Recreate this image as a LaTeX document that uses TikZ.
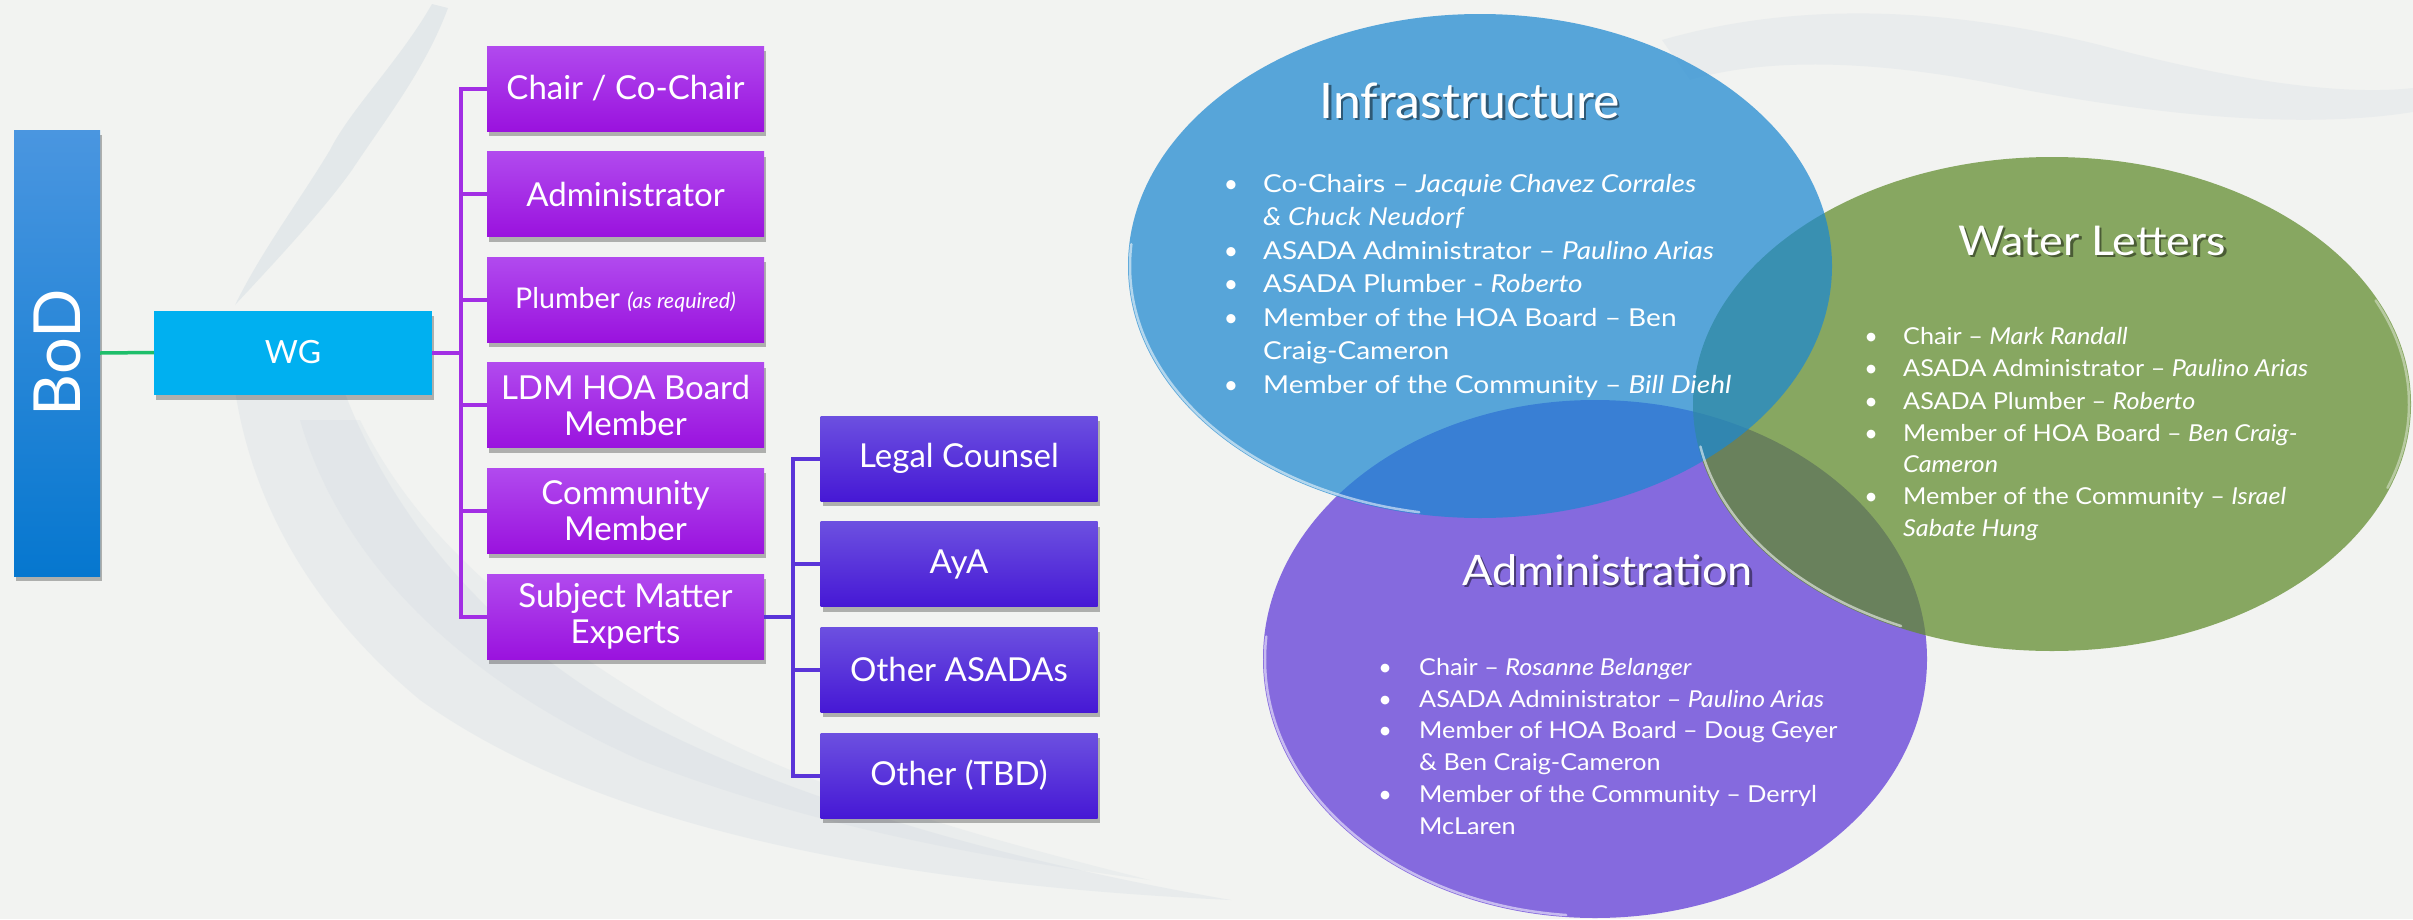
\documentclass[tikz,border=0pt]{standalone}
\usepackage{fontspec}
\setmainfont{Lato}
\usepackage{graphicx}
\usetikzlibrary{shadows}

\definecolor{bg}{HTML}{F2F3F1}
\definecolor{splash}{HTML}{C3CFDB}
\definecolor{bodtop}{HTML}{4A96E0}
\definecolor{bodbot}{HTML}{0677CF}
\definecolor{wgc}{HTML}{00B0F0}
\definecolor{ptop}{HTML}{B14AEE}
\definecolor{pbot}{HTML}{9A12DE}
\definecolor{pline}{HTML}{A22EE4}
\definecolor{vtop}{HTML}{6C50E0}
\definecolor{vbot}{HTML}{4618D5}
\definecolor{vline}{HTML}{5A34D8}
\definecolor{gline}{HTML}{1EBE6A}
\definecolor{eblue}{HTML}{1C88D1}
\definecolor{egreen}{HTML}{5F8B2A}
\definecolor{epurple}{HTML}{5C36D8}

\newlength\tmpw
\newcommand\fitw[2]{\settowidth\tmpw{#2}\pgfmathsetmacro\fitf{#1/\the\tmpw}\scalebox{\fitf}[1]{#2}}
\newcommand\calcstretch[3]{\settowidth\tmpw{#3}\pgfmathsetmacro#1{#2/\the\tmpw}}
\newcommand\infsize{\fontsize{24.7pt}{30pt}\selectfont}
\newcommand\bsize{\fontsize{23.3pt}{30pt}\selectfont}
\newcommand\boxfont{\fontsize{33pt}{36pt}\selectfont}

\begin{document}
\calcstretch{\sInf}{433}{\infsize Co-Chairs – \textit{Jacquie Chavez Corrales}}%
\calcstretch{\sB}{405}{\bsize ASADA Administrator – \textit{Paulino Arias}}%
\begin{tikzpicture}[x=1pt,y=-1pt,
  shad/.style={drop shadow={shadow xshift=2pt, shadow yshift=-5pt, opacity=0.28, fill=black}},
  bodbox/.style={rectangle, minimum width=86pt, minimum height=446pt, inner sep=0pt, top color=bodtop, bottom color=bodbot, text=white, shad},
  wgbox/.style={rectangle, minimum width=278pt, minimum height=84pt, inner sep=0pt, fill=wgc, text=white, font=\fontsize{32pt}{36pt}\selectfont, shad},
  pbox/.style={rectangle, minimum width=277pt, minimum height=85pt, inner sep=2pt, top color=ptop, bottom color=pbot, text=white, align=center, font=\boxfont, shad},
  sbox/.style={pbox, top color=vtop, bottom color=vbot},
  pcon/.style={draw=pline, line width=4pt},
  vcon/.style={draw=vline, line width=4pt},
  gcon/.style={draw=gline, line width=3.5pt},
  infl/.style={anchor=base west, inner sep=0pt, text=white, font=\infsize},
  infb/.style={anchor=base, inner sep=0pt, text=white, font=\infsize},
  bl/.style={anchor=base west, inner sep=0pt, text=white, font=\bsize},
  bb/.style={anchor=base, inner sep=0pt, text=white, font=\bsize},
  ttl/.style={anchor=base, inner sep=0pt, text=white},
  ttls/.style={anchor=base, inner sep=0pt, text=black, opacity=0.45},
  rim/.style={draw=white, line width=2.5pt, opacity=0.55, line cap=round}
]
\useasboundingbox (0,0) rectangle (2413,919);
\fill[bg] (0,0) rectangle (2413,919);

% ---- faint water splash in the background ----
\fill[splash, opacity=0.3] (432,4) .. controls (400,60) and (350,110) .. (330,150)
  .. controls (300,200) and (262,250) .. (235,305)
  .. controls (275,262) and (322,212) .. (352,170)
  .. controls (385,120) and (425,70) .. (448,8) -- cycle;
\fill[splash, opacity=0.2] (231,354) .. controls (240,480) and (300,600) .. (420,700)
  .. controls (560,800) and (800,880) .. (1231,900)
  .. controls (1000,860) and (800,800) .. (660,730)
  .. controls (500,650) and (390,520) .. (340,380) -- cycle;
\fill[splash, opacity=0.16] (300,420) .. controls (340,560) and (460,680) .. (640,760)
  .. controls (820,830) and (1000,860) .. (1150,880)
  .. controls (950,830) and (780,780) .. (650,700)
  .. controls (520,620) and (420,540) .. (360,420) -- cycle;
\fill[splash, opacity=0.18] (1662,40) .. controls (1800,0) and (1950,8) .. (2100,45)
  .. controls (2250,85) and (2350,95) .. (2413,88) -- (2413,112)
  .. controls (2300,130) and (2150,115) .. (2000,85)
  .. controls (1850,55) and (1750,62) .. (1690,80) -- cycle;

% ---- org chart ----
\node[bodbox] (bod) at (57,353) {\fontsize{65pt}{65pt}\selectfont\rotatebox{90}{BoD}};
\node[wgbox] (wg) at (293,352.5) {WG};

\node[pbox] (c1) at (625.5,88.5) {Chair / Co-Chair};
\node[pbox] (c2) at (625.5,194.1) {Administrator};
\node[pbox] (c3) at (625.5,299.7) {\fontsize{28.6pt}{32pt}\selectfont Plumber {\fontsize{21.5pt}{22pt}\selectfont\itshape (as required)}};
\node[pbox] (c4) at (625.5,405.3) {LDM HOA Board\\Member};
\node[pbox] (c5) at (625.5,510.9) {Community\\Member};
\node[pbox] (c6) at (625.5,616.5) {Subject Matter\\Experts};

\node[sbox] (s1) at (959,458.5) {Legal Counsel};
\node[sbox] (s2) at (959,564.2) {AyA};
\node[sbox] (s3) at (959,669.9) {Other ASADAs};
\node[sbox] (s4) at (959,775.6) {Other (TBD)};

\coordinate (jx) at (461,0);
\coordinate (kx) at (793,0);

\draw[gcon] (bod.east) -- (wg.west);
\draw[pcon] (wg.east) -- (wg.east -| jx);
\draw[pcon, line cap=rect] (c1.west -| jx) -- (c6.west -| jx);
\foreach \n in {c1,c2,c3,c4,c5,c6} \draw[pcon] (\n.west -| jx) -- (\n.west);
\draw[vcon] (c6.east) -- (c6.east -| kx);
\draw[vcon, line cap=rect] (s1.west -| kx) -- (s4.west -| kx);
\foreach \n in {s1,s2,s3,s4} \draw[vcon] (\n.west -| kx) -- (\n.west);

% ---- venn ellipses ----
\fill[epurple, fill opacity=0.72] (1595,659) ellipse [x radius=332, y radius=259];
\fill[egreen, fill opacity=0.72] (2052,404) ellipse [x radius=359, y radius=247];
\fill[eblue, fill opacity=0.72] (1480,266) ellipse [x radius=352, y radius=252];

\draw[rim] (1480,266) ++(100:350 and 250) arc[start angle=100, end angle=185, x radius=350, y radius=250];
\draw[rim] (1595,659) ++(95:330 and 257) arc[start angle=95, end angle=185, x radius=330, y radius=257];
\draw[rim] (2052,404) ++(115:357 and 245) arc[start angle=115, end angle=170, x radius=357, y radius=245];
\draw[rim, opacity=0.4] (2052,404) ++(-25:357 and 245) arc[start angle=-25, end angle=20, x radius=357, y radius=245];

% ---- titles ----
\node[ttls] (t1s) at (1472,120.5) {\fontsize{49pt}{49pt}\selectfont\fitw{300}{Infrastructure}};
\node[ttl] (t1) at (1469.5,118) {\fontsize{49pt}{49pt}\selectfont\fitw{300}{Infrastructure}};
\node[ttls] (t2s) at (2094.5,257.5) {\fontsize{41pt}{41pt}\selectfont\fitw{268}{Water Letters}};
\node[ttl] (t2) at (2092,255) {\fontsize{41pt}{41pt}\selectfont\fitw{268}{Water Letters}};
\node[ttls] (t3s) at (1610,587.5) {\fontsize{42pt}{42pt}\selectfont\fitw{291}{Administration}};
\node[ttl] (t3) at (1607.5,585) {\fontsize{42pt}{42pt}\selectfont\fitw{291}{Administration}};

% ---- Infrastructure list ----
\node[infb] (ib1) at (1231,192) {•};
\node[infl] (i1) at (1263,192) {\scalebox{\sInf}[1]{Co-Chairs – \textit{Jacquie Chavez Corrales}}};
\node[infl] (i2) at (1263,225.5) {\scalebox{\sInf}[1]{\textit{\& Chuck Neudorf}}};
\node[infb] (ib3) at (1231,259) {•};
\node[infl] (i3) at (1263,259) {\scalebox{\sInf}[1]{ASADA Administrator – \textit{Paulino Arias}}};
\node[infb] (ib4) at (1231,292.5) {•};
\node[infl] (i4) at (1263,292.5) {\scalebox{\sInf}[1]{ASADA Plumber - \textit{Roberto}}};
\node[infb] (ib5) at (1231,326) {•};
\node[infl] (i5) at (1263,326) {\scalebox{\sInf}[1]{Member of the HOA Board – Ben}};
\node[infl] (i6) at (1263,359.5) {\scalebox{\sInf}[1]{Craig-Cameron}};
\node[infb] (ib7) at (1231,393) {•};
\node[infl] (i7) at (1263,393) {\scalebox{\sInf}[1]{Member of the Community – \textit{Bill Diehl}}};

% ---- Water Letters list ----
\node[bb] (wb1) at (1871,344) {•};
\node[bl] (w1) at (1903,344) {\scalebox{\sB}[1]{Chair – \textit{Mark Randall}}};
\node[bb] (wb2) at (1871,376.5) {•};
\node[bl] (w2) at (1903,376.5) {\scalebox{\sB}[1]{ASADA Administrator – \textit{Paulino Arias}}};
\node[bb] (wb3) at (1871,409) {•};
\node[bl] (w3) at (1903,409) {\scalebox{\sB}[1]{ASADA Plumber – \textit{Roberto}}};
\node[bb] (wb4) at (1871,441) {•};
\node[bl] (w4) at (1903,441) {\scalebox{\sB}[1]{Member of HOA Board – \textit{Ben Craig-}}};
\node[bl] (w5) at (1903,472.5) {\scalebox{\sB}[1]{\textit{Cameron}}};
\node[bb] (wb6) at (1871,504) {•};
\node[bl] (w6) at (1903,504) {\scalebox{\sB}[1]{Member of the Community – \textit{Israel}}};
\node[bl] (w7) at (1903,536) {\scalebox{\sB}[1]{\textit{Sabate Hung}}};

% ---- Administration list ----
\node[bb] (ab1) at (1385,675) {•};
\node[bl] (a1) at (1419,675) {\scalebox{\sB}[1]{Chair – \textit{Rosanne Belanger}}};
\node[bb] (ab2) at (1385,707) {•};
\node[bl] (a2) at (1419,707) {\scalebox{\sB}[1]{ASADA Administrator – \textit{Paulino Arias}}};
\node[bb] (ab3) at (1385,738.5) {•};
\node[bl] (a3) at (1419,738.5) {\scalebox{\sB}[1]{Member of HOA Board – Doug Geyer}};
\node[bl] (a4) at (1419,770.5) {\scalebox{\sB}[1]{\& Ben Craig-Cameron}};
\node[bb] (ab5) at (1385,802) {•};
\node[bl] (a5) at (1419,802) {\scalebox{\sB}[1]{Member of the Community – Derryl}};
\node[bl] (a6) at (1419,834) {\scalebox{\sB}[1]{McLaren}};
\end{tikzpicture}
\end{document}
